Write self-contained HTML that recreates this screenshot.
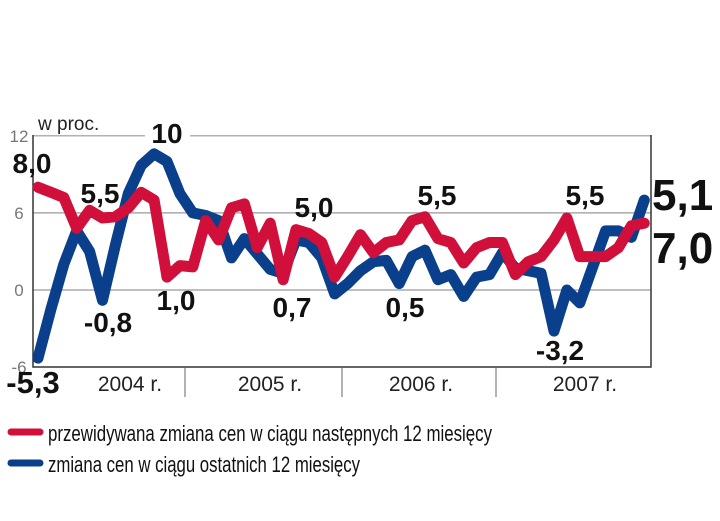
<!DOCTYPE html>
<html><head><meta charset="utf-8"><style>
body{margin:0;background:#fff;width:720px;height:521px;overflow:hidden}
svg{display:block;font-family:"Liberation Sans",sans-serif}
</style></head><body>
<svg id="chart" width="720" height="521" viewBox="0 0 720 521">
<g id="frame"></g>
<g id="series"></g>
<g id="labels"></g>
<g>
<line x1="11" y1="432" x2="40" y2="432" stroke="#d0103a" stroke-width="7" stroke-linecap="round"/>
<text x="48" y="441" font-size="22" fill="#111" textLength="444" lengthAdjust="spacingAndGlyphs">przewidywana zmiana cen w ciągu następnych 12 miesięcy</text>
<line x1="11" y1="463" x2="40" y2="463" stroke="#0a3f8c" stroke-width="7" stroke-linecap="round"/>
<text x="48" y="472" font-size="22" fill="#111" textLength="312" lengthAdjust="spacingAndGlyphs">zmiana cen w ciągu ostatnich 12 miesięcy</text>
</g>
</svg>
<script>
const redValues=[8.0,7.6,7.2,4.8,6.2,5.6,5.7,6.4,7.6,7.0,1.0,1.9,1.8,5.4,3.9,6.4,6.7,3.3,5.2,0.8,4.7,4.4,3.7,1.0,2.6,4.3,2.9,3.7,3.9,5.4,5.7,4.0,3.7,2.1,3.3,3.7,3.7,1.2,2.2,2.6,3.9,5.6,2.6,2.6,2.6,3.3,5.0,5.2];
const blueValues=[-5.3,-1.5,2.0,4.6,3.0,-0.8,3.5,7.5,9.7,10.6,10.0,7.5,6.0,5.8,5.4,2.5,4.0,2.8,1.6,1.3,3.9,3.7,2.5,-0.3,0.5,1.5,2.2,2.3,0.5,2.6,3.1,0.8,1.2,-0.5,1.0,1.2,2.9,1.7,1.5,1.3,-3.2,0.0,-1.0,1.8,4.6,4.6,4.1,7.0];
const yTicks=[12,6,0,-6];
const years=["2004 r.","2005 r.","2006 r.","2007 r."];
const annotationTexts=["8,0","10","5,5","-0,8","1,0","0,7","5,0","5,5","0,5","5,5","-3,2","-5,3"];
const annotationPos=[[32,173],[167,143],[100,203],[108,332],[176,310],[292,317],[314,217],[437,205],[405,317],[585,205],[560,360],[33,393]];
const NS="http://www.w3.org/2000/svg";
const x0=38,dx=12.9,yZero=290,pxPerUnit=12.85;
function xs(i){return x0+dx*i;}
function ys(v){return yZero-v*pxPerUnit;}
function mk(tag,attrs,parent,txt){const e=document.createElementNS(NS,tag);for(const k in attrs)e.setAttribute(k,attrs[k]);if(txt!==undefined)e.textContent=txt;parent.appendChild(e);return e;}
const frame=document.getElementById('frame');
yTicks.forEach(t=>{
  const y=ys(t);
  if(t===12){
    const l=mk('line',{x1:33,x2:145,y1:y,y2:y,stroke:'#999','stroke-width':1.2},frame);
    
    
    const l2=mk('line',{x1:190,x2:651,y1:y,y2:y,stroke:'#999','stroke-width':1.2},frame);
    
    
  }else if(t!==-6){
    const l=mk('line',{x1:33,x2:651,y1:y,y2:y,stroke:'#999','stroke-width':1.2},frame);
    
    
  }
  const tx=mk('text',{x:19,y:y+6,'font-size':17,fill:'#777','text-anchor':'middle'},frame,String(t));
  
  
});
const ax=mk('path',{d:'M33 135 V367 H651 V135',fill:'none',stroke:'#333','stroke-width':1.5},frame);


const wp=mk('text',{x:38,y:130,'font-size':19,fill:'#222'},frame,'w proc.');


const sepX=[185,342,496];
sepX.forEach(x=>{const l=mk('line',{x1:x,x2:x,y1:367,y2:397,stroke:'#666','stroke-width':1},frame);

});
const yearCenters=[130,270,421,585];
years.forEach((y,i)=>{const t=mk('text',{x:yearCenters[i],y:391,'font-size':21,fill:'#222','text-anchor':'middle'},frame,y);

});
const series=document.getElementById('series');
function line(vals,color,name){
  const d=vals.map((v,i)=>(i?'L':'M')+xs(i).toFixed(1)+' '+ys(v).toFixed(1)).join(' ');
  const p=mk('path',{d:d,fill:'none',stroke:color,'stroke-width':11,'stroke-linejoin':'round','stroke-linecap':'round'},series);
  
  
}
line(blueValues,'#0a3f8c','line-past-12-months');
line(redValues,'#d0103a','line-expected-12-months');
const lab=document.getElementById('labels');
annotationTexts.forEach((s,i)=>{
  const big=s==='-5,3';
  const t=mk('text',{x:annotationPos[i][0],y:annotationPos[i][1],'font-size':big?31:28,'font-weight':'bold',fill:'#111','text-anchor':'middle'},lab,s);
  
  
});
const e1=mk('text',{x:652,y:210,'font-size':44,'font-weight':'bold',fill:'#111'},lab,'5,1');


const e2=mk('text',{x:652,y:263,'font-size':44,'font-weight':'bold',fill:'#111'},lab,'7,0');


</script>
</body></html>
